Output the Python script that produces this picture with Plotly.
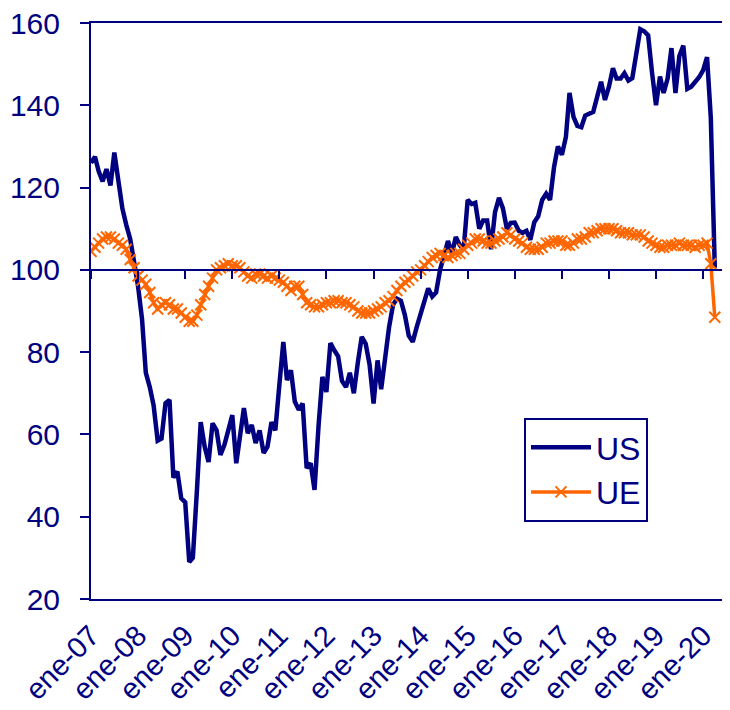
import pandas as pd
import plotly.graph_objects as go

# ---- data (monthly, Jan 2007 - Apr 2020) ----
start_month = "2007-01-01"
us_values = [
    126, 127.5, 124, 121.5, 124.5, 120.5, 128.5, 121.5, 115, 111,
    107.5, 102, 96, 88, 75, 71.5, 67, 58.5, 59, 67.6,
    68.4, 49.5, 51, 44.5, 43.5, 29, 30, 46, 63, 57,
    53.3, 62.7, 61, 55, 57.5, 61, 64.7, 53, 60, 66.4,
    60.3, 62.3, 57.9, 61, 55.5, 57, 63, 61, 72, 82.5,
    73.2, 75.6, 68, 66, 67.5, 51.8, 53, 46.5, 62, 74,
    70.3, 82.2, 80.5, 79, 73, 71.5, 75, 70, 77.5, 83.7,
    82, 77, 67.5, 78, 71, 79.5, 86, 91.5, 93, 92.5,
    89, 84, 82.5, 86, 89.5, 92, 95.5, 93.5, 94.5, 100,
    104, 107, 104, 108, 106, 105, 117, 116, 116.3, 110,
    112, 112, 105, 114, 117.5, 115, 110, 111.4, 111.5, 109.5,
    109, 109.5, 107.3, 111.6, 113, 117, 118.5, 117, 125, 130,
    128, 132.3, 143, 137.2, 135, 134.7, 137.5, 138, 138.4, 142,
    145.7, 141.3, 144.5, 149, 146.5, 146.5, 147.8, 146, 146.6, 152.5,
    158.5, 158, 157, 148, 140, 147, 143, 146.5, 153.9, 143,
    152, 154.5, 144, 144.5, 145.5, 146.8, 148.5, 151.7, 137, 100.5,
]
ue_values = [
    104.5, 105.5, 106.5, 107.5, 108, 108, 107.5, 106.5, 106, 105,
    102.5, 100.5, 98.5, 97.5, 96.5, 94.5, 92, 90.5, 91.5, 92,
    91.5, 90.5, 90.5, 89.5, 88.5, 87.5, 87.5, 89, 91.5, 94,
    96, 98, 100, 100.5, 101, 101.5, 101, 101, 100.5, 99.5,
    98.5, 98, 99, 99, 98.5, 98, 98.5, 98, 97.5, 97,
    96, 95, 96, 96, 94, 92, 91.5, 91, 91, 91.5,
    92, 92, 92.5, 92.5, 92, 92, 91.5, 91, 90, 89.5,
    89.5, 89.5, 90, 90.5, 91, 92, 92.5, 93.5, 95, 96,
    97, 97.5, 98.5, 99.5, 100, 101, 102, 103, 103.5, 104,
    103.5, 103, 103.5, 104, 104, 105, 106, 106.5, 107.5, 107.5,
    107, 106.5, 106.5, 107, 107.5, 108, 109, 108.5, 107.5, 107,
    106.5, 105.5, 105, 105, 105, 105.5, 106.5, 106.5, 107, 107,
    107, 106, 106, 106.5, 107.5, 107.5, 108, 109, 109, 109.5,
    110, 110, 110, 110, 109.5, 109, 109, 109, 108.5, 108.5,
    108.5, 108, 107, 106.5, 106, 105.5, 105.5, 106, 106, 106,
    106.5, 106, 106, 106, 105.5, 106, 106, 106.5, 101.5, 88.5,
]
series_names = ["US", "UE"]
tick_years = list(range(2007, 2021))
tick_labels = ["ene-%02d" % (y % 100) for y in tick_years]
y_ticks = [20, 40, 60, 80, 100, 120, 140, 160]
y_min, y_max = 20, 160
cross_value = 100

dates = pd.date_range(start_month, periods=len(us_values), freq="MS")
tick_dates = [pd.Timestamp(year=y, month=1, day=1) for y in tick_years]

NAVY = "#000080"
ORANGE = "#FF6600"
FONT = "Liberation Sans, Arial, sans-serif"

fig = go.Figure()
fig.add_trace(go.Scatter(
    x=dates, y=us_values, name=series_names[0], mode="lines",
    line=dict(color=NAVY, width=4.5), legendgroup="a",
))
fig.add_trace(go.Scatter(
    x=dates, y=ue_values, name=series_names[1], mode="lines+markers",
    line=dict(color=ORANGE, width=3.5),
    marker=dict(symbol="x-thin", size=11, line=dict(color=ORANGE, width=2)),
    legendgroup="b",
))
# helper trace so the crossing axis (at 100) is drawn
fig.add_trace(go.Scatter(
    x=[dates[0]], y=[None], xaxis="x2", showlegend=False, hoverinfo="skip",
))

x_range = ["2007-01-01", "2020-07-28"]

# page body has an 8px margin: figure is 722x702 placed at (8, 8)
fig.update_layout(
    width=722, height=702,
    margin=dict(l=83, r=0, t=15, b=111),
    paper_bgcolor="white", plot_bgcolor="white",
    font=dict(family=FONT, color=NAVY, size=28),
    showlegend=True,
    legend=dict(
        x=(524 - 91) / 639, y=(599 - 418) / 576, xanchor="left", yanchor="top",
        bgcolor="white", bordercolor=NAVY, borderwidth=2,
        font=dict(family=FONT, size=32, color=NAVY),
        tracegroupgap=0, traceorder="grouped", itemwidth=60,
    ),
    xaxis=dict(
        range=x_range, type="date", automargin=False,
        tickvals=tick_dates, ticktext=tick_labels, tickangle=-45,
        ticks="", showgrid=False, zeroline=False,
        showline=True, linecolor=NAVY, linewidth=2, mirror="all",
        tickfont=dict(family=FONT, size=29, color=NAVY),
        ticklabelstandoff=6, ticklabeloverflow="allow",
    ),
    xaxis2=dict(
        range=x_range, type="date", overlaying="x", anchor="free",
        position=(cross_value - y_min) / (y_max - y_min),
        tickvals=tick_dates, ticks="outside", ticklen=8, tickwidth=2, tickcolor=NAVY,
        showticklabels=False, showgrid=False, zeroline=False,
        showline=True, linecolor=NAVY, linewidth=2,
    ),
    yaxis=dict(
        range=[y_min, y_max], tickvals=y_ticks, automargin=False,
        ticks="outside", ticklen=9, tickwidth=2, tickcolor=NAVY,
        showgrid=False, zeroline=False,
        showline=True, linecolor=NAVY, linewidth=2,
        tickfont=dict(family=FONT, size=30, color=NAVY),
        ticklabelstandoff=14, ticklabeloverflow="allow",
    ),
)

fig.write_html("out.html")
